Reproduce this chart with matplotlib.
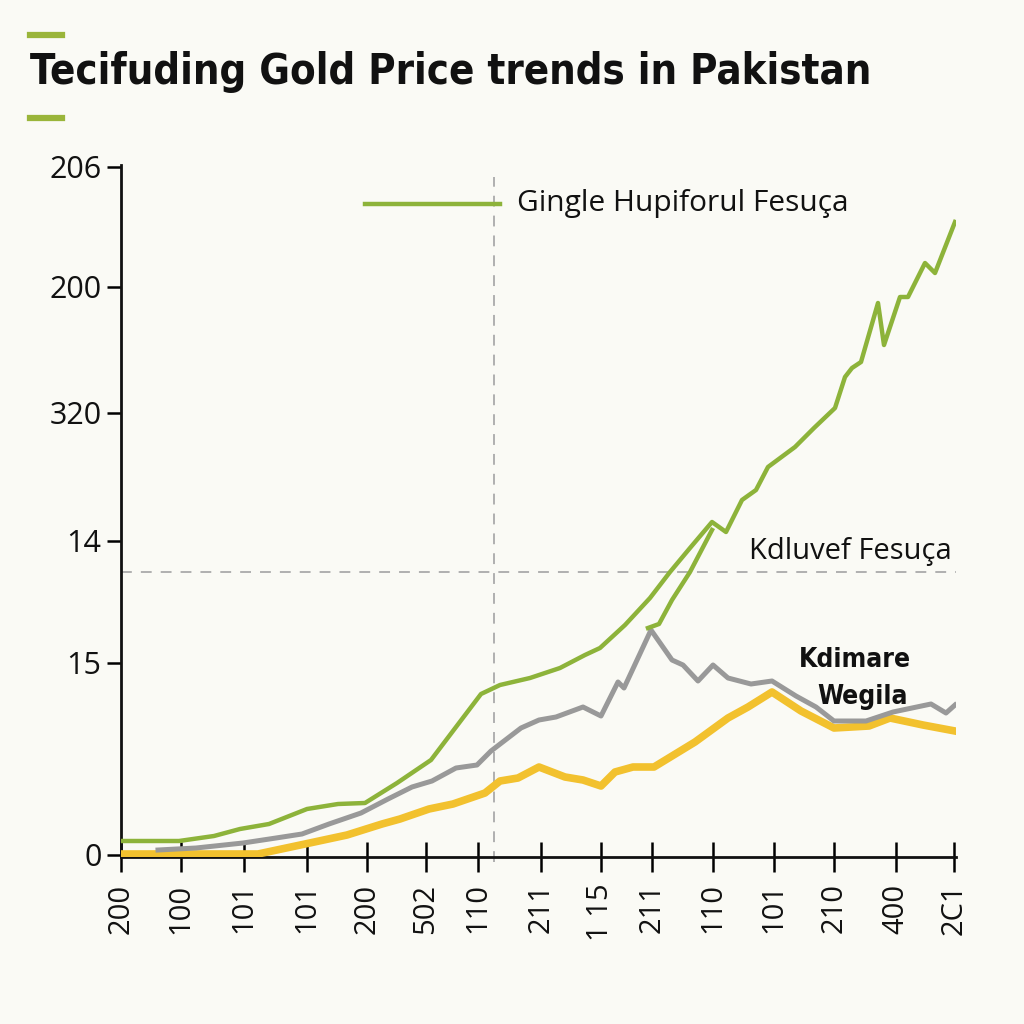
import matplotlib
matplotlib.use("Agg")
import matplotlib.pyplot as plt
from matplotlib.lines import Line2D

# data (x in period units, y in index units)
green_x = [0, 58, 93, 119, 148, 186, 217, 244, 276, 310, 360, 379, 409, 439, 464, 479, 504, 529, 549, 569, 591,
           605, 621, 635, 647, 674, 693, 714, 724, 731, 740, 757, 763, 779, 787, 804, 814, 834]
green_y = [16, 16, 21, 28, 33, 48, 53, 54, 74, 97, 163, 172, 179, 189, 202, 209, 232, 259, 285, 309, 335,
           325, 357, 367, 390, 410, 429, 449, 480, 489, 495, 554, 512, 560, 560, 594, 584, 635]
branch_x = [527, 538, 551, 569, 591]
branch_y = [229, 233, 257, 285, 327]
gray_x = [37, 75, 122, 155, 181, 208, 240, 267, 291, 311, 335, 356, 370, 400, 418, 435, 462, 480, 497, 503,
          530, 551, 562, 577, 592, 607, 630, 651, 675, 695, 713, 745, 772, 810, 825, 834]
gray_y = [7, 9, 14, 19, 23, 33, 44, 58, 70, 76, 89, 92, 106, 129, 137, 140, 150, 141, 175, 169,
          227, 197, 192, 176, 192, 179, 173, 176, 161, 150, 136, 136, 145, 153, 144, 152]
yellow_x = [0, 137, 184, 226, 261, 279, 308, 332, 364, 379, 397, 418, 444, 462, 480, 494, 512, 533, 574,
            607, 627, 651, 680, 713, 748, 769, 802, 834]
yellow_y = [3, 3, 13, 22, 33, 38, 48, 53, 64, 76, 79, 90, 80, 77, 71, 85, 90, 90, 115,
            139, 150, 165, 146, 129, 131, 139, 132, 126]

xtick_pos = [0, 60, 123, 186, 246, 305, 357, 420, 480, 531, 592, 653, 713, 775, 833]
xtick_labels = ["200", "100", "101", "101", "200", "502", "110", "211", "1 15", "211", "110", "101", "210", "400", "2C1"]
ytick_pos = [2, 194, 316, 444, 570, 690]
ytick_labels = ["0", "15", "14", "320", "200", "206"]
vline_x = 373
hline_y = 285

bg = "#fafaf5"
green = "#8db33a"
gray = "#999999"
yellow = "#f2c12e"

fig = plt.figure(figsize=(10.24, 10.24), dpi=100, facecolor=bg)
ax = fig.add_axes([121/1024, 1-857/1024, 835/1024, 692/1024])
ax.set_facecolor(bg)
ax.set_xlim(0, 835)
ax.set_ylim(0, 692)

ax.plot([vline_x, vline_x], [-5, 680], color="#aaaaaa", lw=1.3, ls=(0, (6, 5)), clip_on=False)
ax.plot([0, 835], [hline_y, hline_y], color="#aaaaaa", lw=1.3, ls=(0, (6, 5)))

ax.plot(yellow_x, yellow_y, color=yellow, lw=5.5, solid_joinstyle="round", zorder=3)
ax.plot(gray_x, gray_y, color=gray, lw=3.6, solid_joinstyle="round", zorder=4)
ax.plot(green_x, green_y, color=green, lw=3.2, solid_joinstyle="round", zorder=5)
ax.plot(branch_x, branch_y, color=green, lw=3.2, solid_joinstyle="round", zorder=5)

for s in ["top", "right"]:
    ax.spines[s].set_visible(False)
for s in ["left", "bottom"]:
    ax.spines[s].set_linewidth(2)
    ax.spines[s].set_color("#111111")

ax.set_xticks(xtick_pos)
ax.set_xticklabels(xtick_labels, rotation=90, fontsize=21, family="Open Sans", color="#111111")
ax.set_yticks(ytick_pos)
ax.set_yticklabels(ytick_labels, fontsize=22, family="Open Sans", color="#111111")
ax.tick_params(axis="x", direction="inout", length=22, width=1.8, pad=8)
ax.tick_params(axis="y", direction="out", length=10, width=1.8, pad=4)

# title and decorations
fig.text(30/1024, 1-72/1024, "Tecifuding Gold Price trends in Pakistan", fontsize=30, fontweight="bold",
         family="DejaVu Sans", fontstretch="condensed", va="center", ha="left", color="#111111")
fig.add_artist(Line2D([30/1024, 62/1024], [1-35/1024, 1-35/1024], color="#9ab53a", lw=4.5))
fig.add_artist(Line2D([30/1024, 62/1024], [1-118/1024, 1-118/1024], color="#9ab53a", lw=4.5))

fig.add_artist(Line2D([365/1024, 500/1024], [1-204/1024, 1-204/1024], color=green, lw=3.2))
fig.text(517/1024, 1-204/1024, "Gingle Hupiforul Fesuça", fontsize=21.5, family="Open Sans",
         va="center", ha="left", color="#111111")
fig.text(952/1024, 1-552/1024, "Kdluvef Fesuça", fontsize=21, family="Open Sans",
         va="center", ha="right", color="#111111")
fig.text(855/1024, 1-660/1024, "Kdimare", fontsize=19, fontweight="bold", family="DejaVu Sans",
         fontstretch="condensed", va="center", ha="center", color="#111111")
fig.text(863/1024, 1-697/1024, "Wegila", fontsize=19, fontweight="bold", family="DejaVu Sans",
         fontstretch="condensed", va="center", ha="center", color="#111111")

fig.savefig("out.png", dpi=100, facecolor=bg)
